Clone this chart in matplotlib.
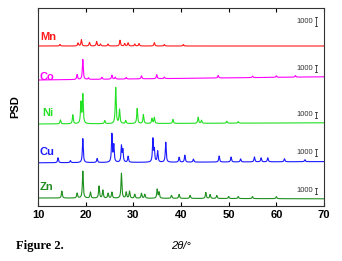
import numpy as np
import matplotlib
matplotlib.use("Agg")
import matplotlib.pyplot as plt

# ---- data ----
names = ["Mn", "Co", "Ni", "Cu", "Zn"]
colors = ["#ff1a1a", "#ff00ff", "#22e022", "#1a1aff", "#1f8f1f"]
# baselines (counts) at 2theta=10 and 2theta=70
base_left = [20000, 15750, 10250, 5400, 1000]
base_right = [20000, 16150, 10400, 5550, 900]

mn_pos = [14.6, 18.4, 19.1, 20.8, 22.3, 23.1, 24.7, 27.2, 28.2, 28.9, 30.3, 31.2, 34.4, 36.5, 40.5]
mn_h = [190, 380, 780, 450, 560, 250, 250, 720, 300, 400, 250, 300, 420, 180, 180]

co_pos = [18.2, 19.4, 20.6, 23.4, 25.5, 26.2, 28.5, 31.7, 34.9, 36.5, 47.8, 55.0, 60.0, 64.0]
co_h = [620, 2500, 190, 250, 500, 250, 190, 380, 500, 190, 310, 190, 190, 190]

ni_pos = [14.7, 17.3, 19.0, 19.4, 24.0, 26.3, 27.1, 28.4, 30.8, 32.1, 33.9, 34.4, 38.3,
          43.6, 44.3, 49.6, 52.0]
ni_h = [500, 1120, 2600, 3600, 380, 4500, 1750, 380, 1870, 1120, 620, 750, 500,
        750, 380, 250, 190]

cu_pos = [14.2, 16.8, 19.4, 22.4, 25.5, 25.9, 27.5, 27.8, 28.9, 34.1, 34.4, 35.1, 36.8,
          39.6, 40.8, 42.6, 48.0, 50.5, 52.5, 55.4, 56.8, 58.2, 61.7, 66.0]
cu_h = [620, 250, 3000, 500, 3500, 2100, 2000, 1500, 750, 2870, 1500, 1370, 2500,
        620, 870, 380, 750, 620, 380, 620, 500, 500, 380, 250]

zn_pos = [15.0, 18.2, 19.4, 21.0, 22.8, 23.6, 24.7, 25.5, 27.5, 28.5, 29.2, 30.3, 31.7,
          32.4, 35.0, 35.4, 38.0, 39.6, 41.9, 45.2, 46.1, 47.5, 50.0, 52.0, 55.0, 60.0]
zn_h = [870, 620, 3370, 750, 1500, 1000, 620, 750, 3120, 750, 870, 500, 620,
        500, 1120, 750, 380, 500, 380, 750, 500, 380, 250, 250, 250, 250]

peaks_pos = [mn_pos, co_pos, ni_pos, cu_pos, zn_pos]
peaks_h = [mn_h, co_h, ni_h, cu_h, zn_h]

scale_len = [1100, 900, 750, 900, 750]
scale_label = "1000"
xticks = [10, 20, 30, 40, 50, 60, 70]

# ---- figure ----
fig = plt.figure(figsize=(3.42, 2.61), dpi=100)
ax = fig.add_axes([38 / 342, 55 / 261, 286 / 342, 198 / 261])

x = np.arange(10, 70.001, 0.02)
hw = 0.11
for i, name in enumerate(names):
    y = base_left[i] + (base_right[i] - base_left[i]) * (x - 10) / 60
    for c, h in zip(peaks_pos[i], peaks_h[i]):
        y = y + h / (1 + ((x - c) / hw) ** 2)
    ax.plot(x, y, color=colors[i], lw=0.8)

ax.set_xlim(10, 70)
ax.set_ylim(0, 24750)
ax.set_yticks([])
ax.set_xticks(xticks)
ax.set_xticklabels([str(t) for t in xticks], fontsize=8, fontweight="bold",
                   family="Liberation Sans")
ax.tick_params(axis="x", direction="in", top=True, length=3, width=0.8, pad=3)
for s in ax.spines.values():
    s.set_linewidth(0.8)
    s.set_color("#333333")

# series labels (axes fraction from pixel positions)
label_y = [37, 77, 113, 152, 187]
label_x = [40, 40, 42, 40, 40]
for i, name in enumerate(names):
    ax.text((label_x[i] - 38) / 286, (206 - label_y[i]) / 198, name, color=colors[i],
            fontsize=8, fontweight="bold", family="Liberation Sans",
            transform=ax.transAxes, va="center", ha="left")

# scale bars
bar_center = [21.5, 68.5, 115, 152.5, 191]
for i in range(5):
    yc = (206 - bar_center[i]) * 125
    y0, y1 = yc - scale_len[i] / 2, yc + scale_len[i] / 2
    xb = 68.3
    ax.plot([xb, xb], [y0, y1], color="#333333", lw=0.6)
    ax.plot([xb - 0.25, xb + 0.25], [y0, y0], color="#333333", lw=0.6)
    ax.plot([xb - 0.25, xb + 0.25], [y1, y1], color="#333333", lw=0.6)
    ax.text(67.7, yc, scale_label, fontsize=5.5, color="#333333", ha="right",
            va="center", family="Liberation Sans")

ax.set_ylabel("PSD", fontsize=8, fontweight="bold", family="Liberation Sans", labelpad=13)
ax.set_xlabel("2θ/°", fontsize=8, family="Liberation Sans", style="italic", labelpad=15)

fig.text(16 / 342, 1 - 246 / 261, "Figure 2.", fontsize=9, fontweight="bold",
         family="Liberation Serif", va="center", ha="left")

fig.savefig("out.png", dpi=100)
